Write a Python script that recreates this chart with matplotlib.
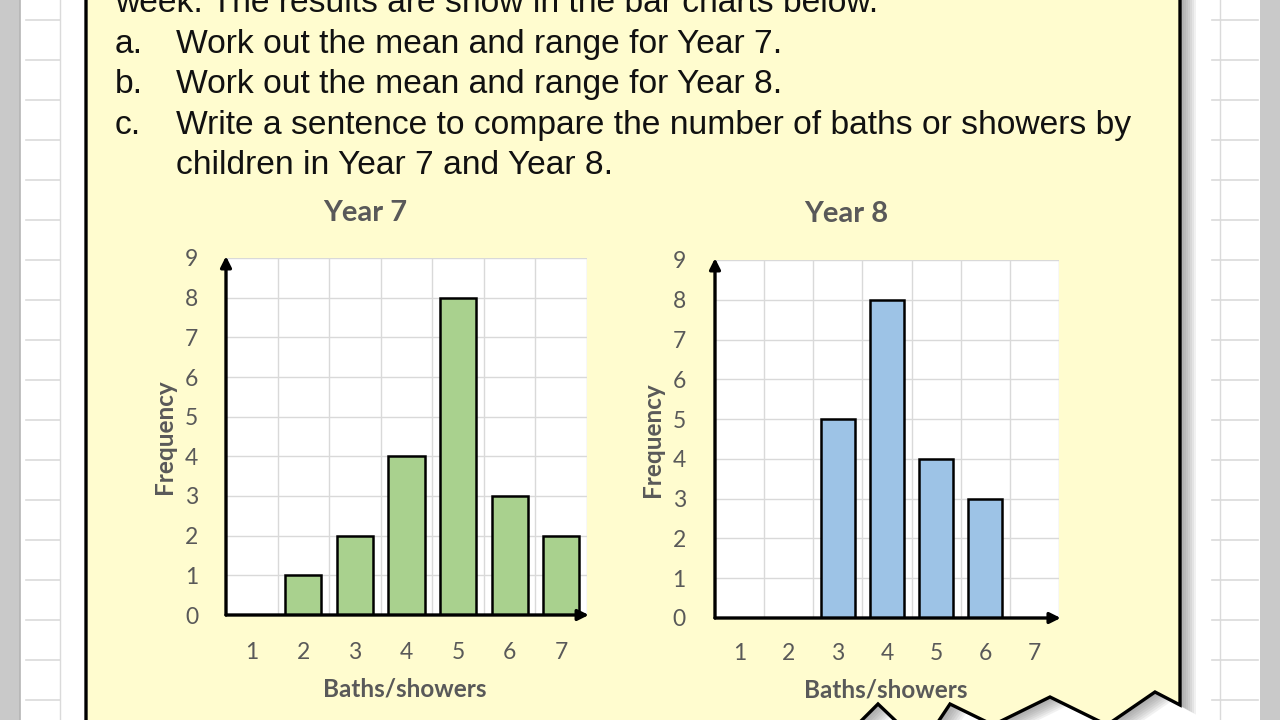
"""Worksheet slide: baths/showers per week for Year 7 and Year 8."""

from matplotlib import pyplot
from matplotlib.patches import Polygon, Rectangle

# Values.
baths = [1, 2, 3, 4, 5, 6, 7]
year7_freq = [0, 1, 2, 4, 8, 3, 2]
year8_freq = [0, 0, 5, 8, 4, 3, 0]
freq_ticks = [0, 1, 2, 3, 4, 5, 6, 7, 8, 9]

question_lines = [
    ('', 'week. The results are show in the bar charts below.'),
    ('a.', 'Work out the mean and range for Year 7.'),
    ('b.', 'Work out the mean and range for Year 8.'),
    ('c.', 'Write a sentence to compare the number of baths or showers by'),
    ('', 'children in Year 7 and Year 8.'),
]

W, H = 1280, 720
paper = '#FFFCCF'
label_grey = '#595959'
grid_grey = '#D9D9D9'

fig = pyplot.figure(figsize=(W / 100, H / 100), dpi=100)

# Background axis in pixel coordinates (y pointing down).
bg = fig.add_axes([0, 0, 1, 1], zorder=0)
bg.set_xlim(0, W)
bg.set_ylim(H, 0)
bg.axis('off')

# Squared paper strips at both sides.
bg.add_patch(Rectangle((0, 0), 20, H, color='#C9C9C9', lw=0))
bg.add_patch(Rectangle((1260, 0), 20, H, color='#C9C9C9', lw=0))
bg.plot([20, 20], [0, H], color='#B5B5B5', lw=1.2)
bg.plot([60, 60], [0, H], color='#DADADA', lw=1)
bg.plot([1220, 1220], [0, H], color='#DADADA', lw=1)
for y in range(20, H, 40):
    bg.plot([26, 60], [y, y], color='#DADADA', lw=1.2)
    bg.plot([1212, 1258], [y, y], color='#DADADA', lw=1.2)

# Yellow sheet with torn bottom edge and a soft shadow.
sheet = [(86, -10), (1180, -10), (1180, 705), (1155, 692), (1107, 725),
         (1050, 697), (993, 725), (950, 704), (936, 725), (900, 725),
         (878, 704), (857, 725), (86, 725)]
for off in range(16, 0, -2):
    shadow = [(x + off, y + off * 0.6) for x, y in sheet]
    bg.add_patch(Polygon(shadow, closed=True, color='#555555',
                         alpha=0.08, lw=0))
bg.add_patch(Polygon(sheet, closed=True, facecolor=paper,
                     edgecolor='black', lw=2.4, joinstyle='miter'))

# Question text.
for i, (lead, text) in enumerate(question_lines):
    base = 12 + 40.6 * i
    x_text = 176 if i > 0 else 115
    bg.text(115, base, lead, fontsize=24.2, family='Liberation Sans',
            color='#111111', va='baseline')
    bg.text(x_text, base, text, fontsize=24.2, family='Liberation Sans',
            color='#111111', va='baseline')


def draw_chart(rect, freqs, colour, title, title_xy, ylab_xy, xlab_xy,
               ypad, xpad):
    ax = fig.add_axes(rect, zorder=2)
    ax.set_facecolor('white')
    ax.set_xlim(0.5, 7.5)
    ax.set_ylim(0, 9)
    ax.set_xticks(baths)
    ax.set_yticks(freq_ticks)
    ax.set_xticks([b + 0.5 for b in baths], minor=True)
    ax.grid(True, which='minor', axis='x', color=grid_grey, lw=1)
    ax.grid(True, which='major', axis='y', color=grid_grey, lw=1)
    ax.set_axisbelow(True)
    for side in ax.spines.values():
        side.set_visible(False)
    ax.tick_params(which='both', length=0)
    ax.tick_params(axis='y', pad=ypad)
    ax.tick_params(axis='x', pad=xpad)
    for lab in ax.get_xticklabels() + ax.get_yticklabels():
        lab.set_family('Lato')
        lab.set_fontsize(16.5)
        lab.set_color(label_grey)
    ax.bar(baths, freqs, width=0.7, color=colour, edgecolor='black',
           lw=1.8, zorder=2)
    arrow = dict(arrowstyle='-|>', lw=2.4, color='black',
                 mutation_scale=16, shrinkA=0, shrinkB=0)
    ax.annotate('', xy=(0, 1.005), xytext=(0, 0), xycoords='axes fraction',
                arrowprops=arrow, annotation_clip=False, zorder=4)
    ax.annotate('', xy=(1.005, 0), xytext=(0, 0), xycoords='axes fraction',
                arrowprops=arrow, annotation_clip=False, zorder=4)
    bg.text(*title_xy, title, fontsize=21, family='Lato', weight='bold',
            color=label_grey, ha='center', va='center')
    bg.text(*ylab_xy, 'Frequency', fontsize=17.5, family='Lato',
            weight='bold', color=label_grey, ha='center', va='center',
            rotation=90)
    bg.text(*xlab_xy, 'Baths/showers', fontsize=17.5, family='Lato',
            weight='bold', color=label_grey, ha='center', va='center')
    return ax


draw_chart([226 / W, 1 - 615 / H, 361 / W, 357 / H], year7_freq, '#A9D18E',
           'Year 7', (365, 213), (165, 437), (405, 689), 20, 19.5)
draw_chart([715 / W, 1 - 618 / H, 344 / W, 358 / H], year8_freq, '#9DC3E6',
           'Year 8', (846, 214), (653, 440), (886, 690), 21, 18)

fig.savefig('out.png', dpi=100)
